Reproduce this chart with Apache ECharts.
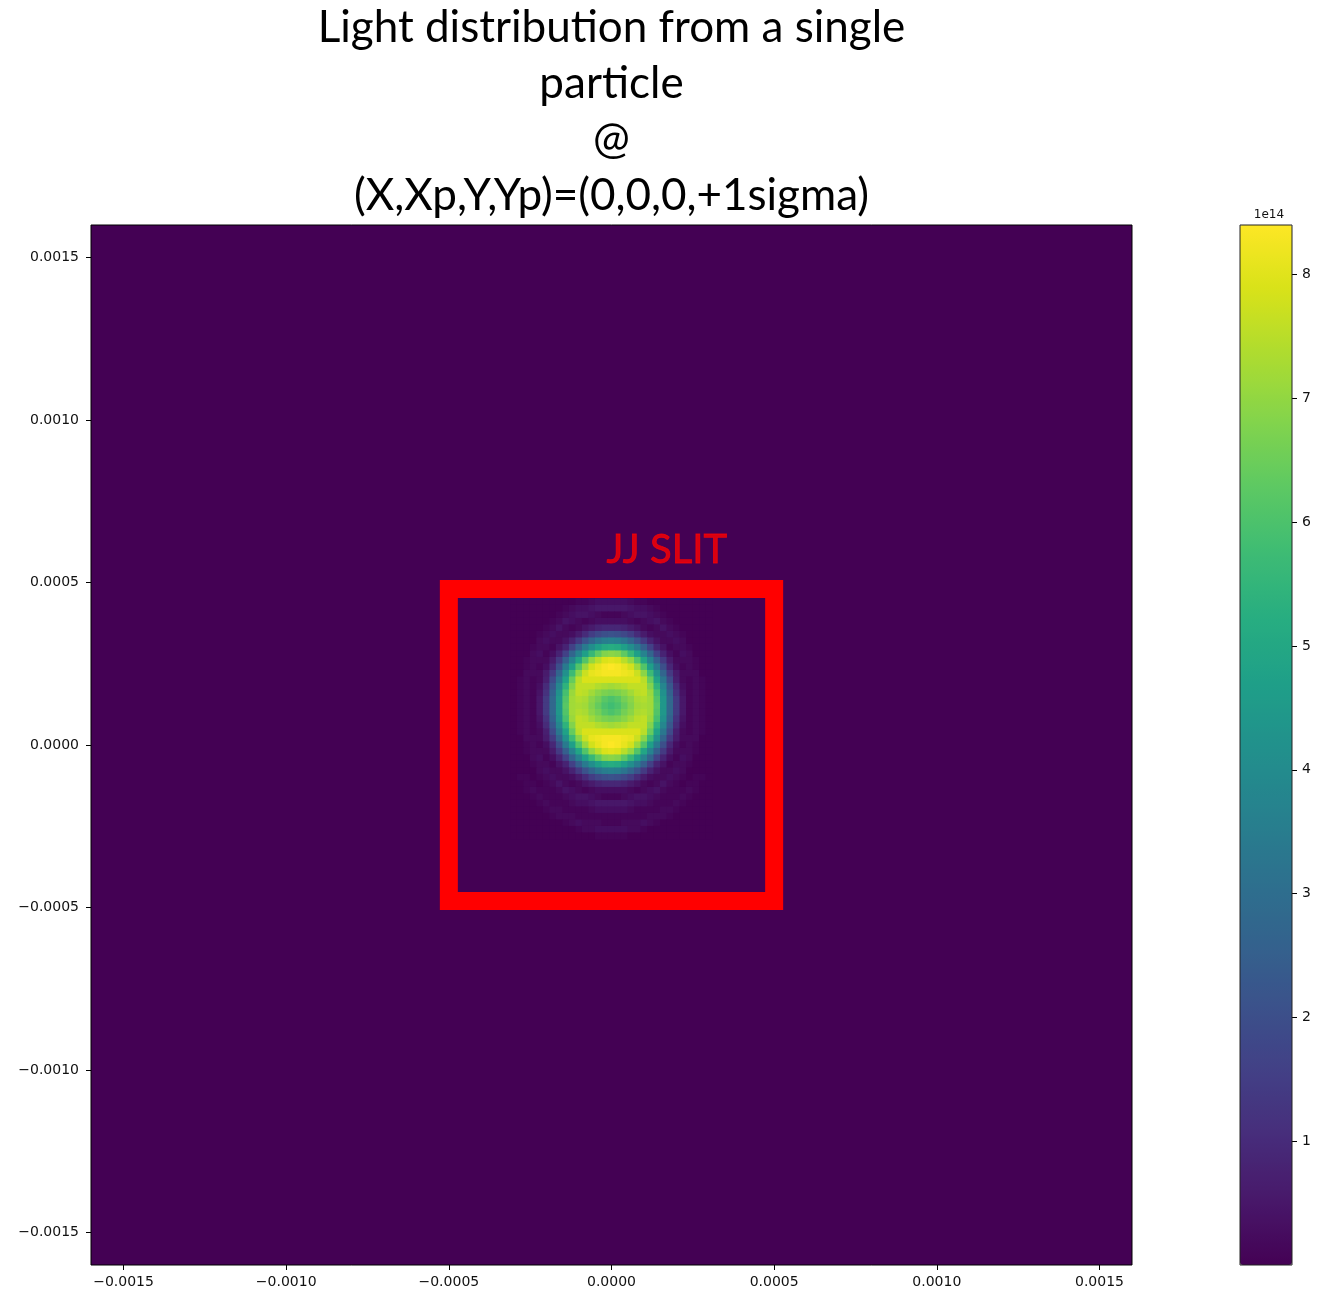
<!DOCTYPE html>
<html>
<head>
<meta charset="utf-8">
<script src="https://cdn.jsdelivr.net/npm/echarts@6/dist/echarts.min.js"></script>
<style>
  html, body { margin: 0; padding: 0; background: #ffffff; }
  #chart { width: 1330px; height: 1296px; }
</style>
</head>
<body>
<div id="chart"></div>
<script>
// Detector-plane extent (m) and tick positions
const axisMin = -0.0016;
const axisMax = 0.0016;
const tickValues = [-0.0015, -0.001, -0.0005, 0, 0.0005, 0.001, 0.0015];

// Colour scale (units of 1e14)
const intensityMin = 0;
const intensityMax = 8.4;
const colorbarTicks = [1, 2, 3, 4, 5, 6, 7, 8];

// Sampling grid of the light spot (cell centres, m)
const cellSize = 0.00002;
const cellX = [
  -0.00030, -0.00028, -0.00026, -0.00024, -0.00022, -0.00020, -0.00018, -0.00016,
  -0.00014, -0.00012, -0.00010, -0.00008, -0.00006, -0.00004, -0.00002, 0,
  0.00002, 0.00004, 0.00006, 0.00008, 0.00010, 0.00012, 0.00014, 0.00016,
  0.00018, 0.00020, 0.00022, 0.00024, 0.00026, 0.00028, 0.00030
];
const cellY = [
  0.00044, 0.00042, 0.00040, 0.00038, 0.00036, 0.00034, 0.00032, 0.00030,
  0.00028, 0.00026, 0.00024, 0.00022, 0.00020, 0.00018, 0.00016, 0.00014,
  0.00012, 0.00010, 0.00008, 0.00006, 0.00004, 0.00002, 0, -0.00002,
  -0.00004, -0.00006, -0.00008, -0.00010, -0.00012, -0.00014, -0.00016, -0.00018,
  -0.00020, -0.00022, -0.00024, -0.00026, -0.00028
];

// Intensity per cell (×1e14), one row per cellY, one column per cellX
const intensity = [
  [0,0,0,0,0,0,0,0,0,0,0.1,0.1,0.2,0.3,0.3,0.3,0.3,0.3,0.2,0.1,0.1,0,0,0,0,0,0,0,0,0,0],
  [0,0,0,0,0,0,0,0,0.1,0.2,0.3,0.3,0.4,0.5,0.5,0.5,0.5,0.5,0.4,0.3,0.3,0.2,0.1,0,0,0,0,0,0,0,0],
  [0,0,0,0,0,0,0,0.1,0.2,0.3,0.4,0.4,0.3,0.2,0.1,0.1,0.1,0.2,0.3,0.4,0.4,0.3,0.2,0.1,0,0,0,0,0,0,0],
  [0,0,0,0,0,0,0.1,0.2,0.4,0.3,0.2,0.1,0.2,0.3,0.3,0.3,0.3,0.3,0.2,0.1,0.2,0.3,0.4,0.2,0.1,0,0,0,0,0,0],
  [0,0,0,0,0,0.1,0.2,0.4,0.2,0.1,0.2,0.4,0.6,0.8,0.9,0.9,0.9,0.8,0.6,0.4,0.2,0.1,0.2,0.4,0.2,0.1,0,0,0,0,0],
  [0,0,0,0,0.1,0.2,0.3,0.2,0.2,0.3,0.6,1.0,1.5,1.8,2.0,2.1,2.0,1.8,1.5,1.0,0.6,0.3,0.2,0.2,0.3,0.2,0.1,0,0,0,0],
  [0,0,0,0,0.2,0.3,0.2,0.2,0.4,0.8,1.4,2.1,2.7,3.2,3.5,3.6,3.5,3.2,2.7,2.1,1.4,0.8,0.4,0.2,0.2,0.3,0.2,0,0,0,0],
  [0,0,0,0.1,0.2,0.2,0.1,0.4,0.8,1.6,2.5,3.4,4.1,4.7,5.1,5.2,5.1,4.7,4.1,3.4,2.5,1.6,0.8,0.4,0.1,0.2,0.2,0.1,0,0,0],
  [0,0,0,0.2,0.3,0.1,0.3,0.8,1.6,2.7,3.7,4.7,5.6,6.3,6.8,6.9,6.8,6.3,5.6,4.7,3.7,2.7,1.6,0.8,0.3,0.1,0.3,0.2,0,0,0],
  [0,0,0.1,0.2,0.2,0.2,0.6,1.4,2.5,3.7,4.9,6.1,7.0,7.5,7.9,8.0,7.9,7.5,7.0,6.1,4.9,3.7,2.5,1.4,0.6,0.2,0.2,0.2,0.1,0,0],
  [0,0,0.1,0.2,0.1,0.3,0.9,2.0,3.4,4.7,6.1,7.1,7.8,8.1,8.3,8.4,8.3,8.1,7.8,7.1,6.1,4.7,3.4,2.0,0.9,0.3,0.1,0.2,0.1,0,0],
  [0,0,0.2,0.2,0.2,0.6,1.4,2.7,4.2,5.7,6.9,7.7,8.1,8.2,8.3,8.3,8.3,8.2,8.1,7.7,6.9,5.7,4.2,2.7,1.4,0.6,0.2,0.2,0.2,0,0],
  [0,0.1,0.2,0.1,0.2,0.7,1.9,3.3,4.8,6.4,7.5,7.9,7.9,7.9,7.9,7.9,7.9,7.9,7.9,7.9,7.5,6.4,4.8,3.3,1.9,0.7,0.2,0.1,0.2,0.1,0],
  [0,0.1,0.2,0.1,0.3,1.0,2.3,3.8,5.4,6.8,7.6,7.6,7.6,7.4,7.3,7.2,7.3,7.4,7.6,7.6,7.6,6.8,5.4,3.8,2.3,1.0,0.3,0.1,0.2,0.1,0],
  [0,0.1,0.2,0.1,0.4,1.2,2.6,4.2,5.9,7.1,7.6,7.5,7.2,6.9,6.7,6.6,6.7,6.9,7.2,7.5,7.6,7.1,5.9,4.2,2.6,1.2,0.4,0.1,0.2,0.1,0],
  [0,0.1,0.2,0.1,0.5,1.4,2.8,4.4,6.1,7.2,7.4,7.3,6.9,6.6,6.2,6.0,6.2,6.6,6.9,7.3,7.4,7.2,6.1,4.4,2.8,1.4,0.5,0.1,0.2,0.1,0],
  [0,0.1,0.2,0.1,0.5,1.4,2.8,4.4,6.2,7.2,7.3,7.2,6.8,6.4,6.0,5.8,6.0,6.4,6.8,7.2,7.3,7.2,6.2,4.4,2.8,1.4,0.5,0.1,0.2,0.1,0],
  [0,0.1,0.2,0.1,0.5,1.4,2.8,4.4,6.1,7.2,7.4,7.3,6.9,6.6,6.2,6.0,6.2,6.6,6.9,7.3,7.4,7.2,6.1,4.4,2.8,1.4,0.5,0.1,0.2,0.1,0],
  [0,0.1,0.2,0.1,0.4,1.2,2.6,4.2,5.9,7.1,7.6,7.5,7.2,6.9,6.7,6.6,6.7,6.9,7.2,7.5,7.6,7.1,5.9,4.2,2.6,1.2,0.4,0.1,0.2,0.1,0],
  [0,0.1,0.2,0.1,0.3,1.0,2.3,3.8,5.4,6.8,7.6,7.6,7.6,7.4,7.3,7.2,7.3,7.4,7.6,7.6,7.6,6.8,5.4,3.8,2.3,1.0,0.3,0.1,0.2,0.1,0],
  [0,0.1,0.2,0.1,0.2,0.7,1.9,3.3,4.8,6.4,7.5,7.9,7.9,7.9,7.9,7.9,7.9,7.9,7.9,7.9,7.5,6.4,4.8,3.3,1.9,0.7,0.2,0.1,0.2,0.1,0],
  [0,0,0.2,0.2,0.2,0.6,1.4,2.7,4.2,5.7,6.9,7.7,8.1,8.2,8.3,8.3,8.3,8.2,8.1,7.7,6.9,5.7,4.2,2.7,1.4,0.6,0.2,0.2,0.2,0,0],
  [0,0,0.1,0.2,0.1,0.3,0.9,2.0,3.4,4.7,6.1,7.1,7.8,8.1,8.3,8.4,8.3,8.1,7.8,7.1,6.1,4.7,3.4,2.0,0.9,0.3,0.1,0.2,0.1,0,0],
  [0,0,0.1,0.2,0.2,0.2,0.6,1.4,2.5,3.7,4.9,6.1,7.0,7.5,7.9,8.0,7.9,7.5,7.0,6.1,4.9,3.7,2.5,1.4,0.6,0.2,0.2,0.2,0.1,0,0],
  [0,0,0,0.2,0.3,0.1,0.3,0.8,1.6,2.7,3.7,4.7,5.6,6.3,6.8,6.9,6.8,6.3,5.6,4.7,3.7,2.7,1.6,0.8,0.3,0.1,0.3,0.2,0,0,0],
  [0,0,0,0.1,0.2,0.2,0.1,0.4,0.8,1.6,2.5,3.4,4.1,4.7,5.1,5.2,5.1,4.7,4.1,3.4,2.5,1.6,0.8,0.4,0.1,0.2,0.2,0.1,0,0,0],
  [0,0,0,0,0.2,0.3,0.2,0.2,0.4,0.8,1.4,2.1,2.7,3.2,3.5,3.6,3.5,3.2,2.7,2.1,1.4,0.8,0.4,0.2,0.2,0.3,0.2,0,0,0,0],
  [0,0.1,0.1,0,0.1,0.2,0.3,0.2,0.2,0.3,0.6,1.0,1.5,1.8,2.0,2.1,2.0,1.8,1.5,1.0,0.6,0.3,0.2,0.2,0.3,0.2,0.1,0,0.1,0.1,0],
  [0,0,0.1,0.1,0,0.1,0.2,0.4,0.2,0.1,0.2,0.4,0.6,0.8,0.9,0.9,0.9,0.8,0.6,0.4,0.2,0.1,0.2,0.4,0.2,0.1,0,0.1,0.1,0,0],
  [0,0,0.1,0.2,0.1,0.1,0.1,0.2,0.4,0.3,0.2,0.1,0.2,0.3,0.3,0.3,0.3,0.3,0.2,0.1,0.2,0.3,0.4,0.2,0.1,0.1,0.1,0.2,0.1,0,0],
  [0,0,0,0.1,0.2,0.1,0.1,0.1,0.2,0.3,0.4,0.4,0.3,0.2,0.1,0.1,0.1,0.2,0.3,0.4,0.4,0.3,0.2,0.1,0.1,0.1,0.2,0.1,0,0,0],
  [0,0,0,0,0.1,0.2,0.1,0.1,0.1,0.2,0.3,0.3,0.4,0.5,0.5,0.5,0.5,0.5,0.4,0.3,0.3,0.2,0.1,0.1,0.1,0.2,0.1,0,0,0,0],
  [0,0,0,0,0,0.1,0.2,0.2,0.1,0.1,0.1,0.1,0.2,0.3,0.3,0.3,0.3,0.3,0.2,0.1,0.1,0.1,0.1,0.2,0.2,0.1,0,0,0,0,0],
  [0,0,0,0,0,0,0.1,0.2,0.2,0.2,0.1,0.1,0.1,0.1,0.1,0.1,0.1,0.1,0.1,0.1,0.1,0.2,0.2,0.2,0.1,0,0,0,0,0,0],
  [0,0,0,0,0,0,0,0,0.1,0.2,0.3,0.2,0.2,0.2,0.1,0.1,0.1,0.2,0.2,0.2,0.3,0.2,0.1,0,0,0,0,0,0,0,0],
  [0,0,0,0,0,0,0,0,0,0,0.1,0.2,0.2,0.3,0.3,0.3,0.3,0.3,0.2,0.2,0.1,0,0,0,0,0,0,0,0,0,0],
  [0,0,0,0,0,0,0,0,0,0,0,0,0,0.1,0.1,0.1,0.1,0.1,0,0,0,0,0,0,0,0,0,0,0,0,0]
];

// Slit outline (m) and its caption
const slitX = [-0.0005, 0.0005];
const slitY = [-0.00048, 0.00048];
const slitCaption = 'JJ SLIT';
const slitCaptionAt = [0.00017, 0.0006];

const titleLines = [
  'Light distribution from a single',
  'particle',
  '@',
  '(X,Xp,Y,Yp)=(0,0,0,+1sigma)'
];

const viridis = [
  '#440154', '#48186a', '#472d7b', '#424086', '#3b528b', '#33638d',
  '#2c728e', '#26828e', '#21918c', '#1fa088', '#28ae80', '#3fbc73',
  '#5ec962', '#84d44b', '#addc30', '#d8e219', '#fde725'
];

// ---- build series data ----
const cells = [];
intensity.forEach((row, r) => {
  row.forEach((v, c) => {
    cells.push([cellX[c], cellY[r], v]);
  });
});

const slitPath = [
  [slitX[0], slitY[1]],
  [slitX[1], slitY[1]],
  [slitX[1], slitY[0]],
  [slitX[0], slitY[0]],
  [slitX[0], slitY[1]]
];

const fmtTick = v => (v < 0 ? '\u2212' : '') + Math.abs(v).toFixed(4);

const tickFont = { fontFamily: 'DejaVu Sans', fontSize: 14, color: '#111' };

const chart = echarts.init(document.getElementById('chart'), null, { renderer: 'canvas' });

const plotLeft = 91, plotTop = 225, plotWidth = 1041, plotHeight = 1040;
const cbLeft = 1240, cbWidth = 52;

chart.setOption({
  animation: false,
  backgroundColor: '#ffffff',
  graphic: titleLines.map((t, k) => ({
    type: 'text',
    x: plotLeft + plotWidth / 2,
    y: 28 + k * 56,
    style: {
      text: t,
      fill: '#000',
      font: '44px Lato',
      textAlign: 'center',
      textVerticalAlign: 'middle',
      align: 'center',
      verticalAlign: 'middle'
    }
  })).concat([{
    type: 'text',
    x: cbLeft + cbWidth / 2 + 3,
    y: 215,
    style: {
      text: '1e14',
      fill: '#111',
      font: '12px "DejaVu Sans"',
      textAlign: 'center',
      textVerticalAlign: 'middle',
      align: 'center',
      verticalAlign: 'middle'
    }
  }]),
  grid: [
    {
      left: plotLeft, top: plotTop, width: plotWidth, height: plotHeight,
      show: true, backgroundColor: viridis[0], borderColor: '#000', borderWidth: 1
    },
    {
      left: cbLeft, top: plotTop, width: cbWidth, height: plotHeight,
      show: true, backgroundColor: 'transparent', borderColor: '#222', borderWidth: 1, z: 10
    }
  ],
  xAxis: [
    {
      type: 'value', gridIndex: 0, min: axisMin, max: axisMax, position: 'bottom',
      axisLine: { show: false, onZero: false },
      splitLine: { show: false },
      axisTick: { show: true, customValues: tickValues, length: 5, lineStyle: { color: '#000', width: 1 } },
      axisLabel: Object.assign({ customValues: tickValues, formatter: fmtTick, margin: 10 }, tickFont)
    },
    { type: 'value', gridIndex: 1, min: 0, max: 1, show: false }
  ],
  yAxis: [
    {
      type: 'value', gridIndex: 0, min: axisMin, max: axisMax, position: 'left',
      axisLine: { show: false, onZero: false },
      splitLine: { show: false },
      axisTick: { show: true, customValues: tickValues, length: 5, lineStyle: { color: '#000', width: 1 } },
      axisLabel: Object.assign({ customValues: tickValues, formatter: fmtTick, margin: 12 }, tickFont)
    },
    {
      type: 'value', gridIndex: 1, position: 'right', min: intensityMin, max: intensityMax,
      axisLine: { show: false, onZero: false },
      splitLine: { show: false },
      axisTick: { show: true, customValues: colorbarTicks, length: 5, lineStyle: { color: '#000', width: 1 } },
      axisLabel: Object.assign({ customValues: colorbarTicks, margin: 10 }, tickFont)
    }
  ],
  visualMap: {
    type: 'continuous',
    seriesIndex: 0,
    dimension: 2,
    min: intensityMin,
    max: intensityMax,
    calculable: false,
    hoverLink: false,
    orient: 'vertical',
    left: cbLeft,
    top: plotTop,
    itemWidth: cbWidth,
    itemHeight: plotHeight,
    padding: 0,
    text: null,
    showLabel: false,
    inRange: { color: viridis }
  },
  series: [
    {
      type: 'custom',
      coordinateSystem: 'cartesian2d',
      xAxisIndex: 0,
      yAxisIndex: 0,
      silent: true,
      data: cells,
      encode: { x: 0, y: 1 },
      renderItem(params, api) {
        const x = api.value(0), y = api.value(1);
        const p0 = api.coord([x - cellSize / 2, y + cellSize / 2]);
        const p1 = api.coord([x + cellSize / 2, y - cellSize / 2]);
        return {
          type: 'rect',
          shape: { x: p0[0] - 0.3, y: p0[1] - 0.3, width: p1[0] - p0[0] + 0.6, height: p1[1] - p0[1] + 0.6 },
          style: { fill: api.visual('color') }
        };
      }
    },
    {
      type: 'line',
      xAxisIndex: 0,
      yAxisIndex: 0,
      data: slitPath,
      symbol: 'none',
      silent: true,
      z: 5,
      lineStyle: { color: '#ff0000', width: 18, join: 'miter', cap: 'square' }
    },
    {
      type: 'scatter',
      xAxisIndex: 0,
      yAxisIndex: 0,
      data: [slitCaptionAt],
      symbolSize: 1,
      silent: true,
      z: 6,
      itemStyle: { color: 'rgba(0,0,0,0)' },
      label: {
        show: true,
        position: 'inside',
        formatter: slitCaption,
        color: '#ff0000',
        textBorderWidth: 0.8,
        textBorderColor: '#ff0000',
        fontFamily: 'Lato',
        fontSize: 40
      }
    }
  ]
});
</script>
</body>
</html>
